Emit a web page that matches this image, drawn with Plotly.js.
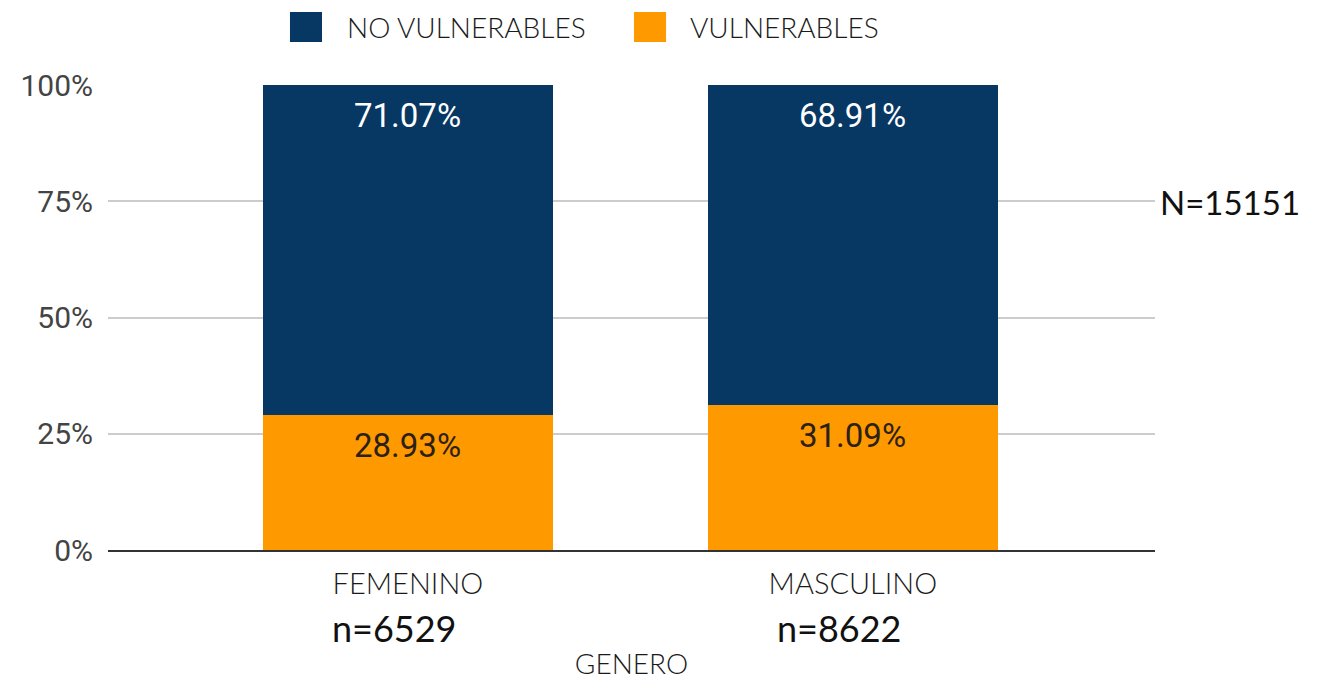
<!DOCTYPE html>
<html>
<head>
<meta charset="utf-8">
<script src="https://cdn.plot.ly/plotly-3.0.1.min.js"></script>
<style>html,body{margin:0;padding:0;background:#fff;}#chart{width:1328px;height:680px;}</style>
</head>
<body>
<div id="chart"></div>
<script>
var categories = ["FEMENINO", "MASCULINO"];
var groupSizes = ["n=6529", "n=8622"];
var vulnerables = [28.93, 31.09];
var noVulnerables = [71.07, 68.91];
var totalLabel = "N=15151";
var seriesNames = ["NO VULNERABLES", "VULNERABLES"];
var yTicks = [0, 25, 50, 75, 100];
var yTickText = ["0%", "25%", "50%", "75%", "100%"];

var navy = "#073763";
var orange = "#ff9900";

var traces = [
  {type: "bar", name: seriesNames[1], x: categories, y: vulnerables, marker: {color: orange}, width: 0.652, hoverinfo: "skip"},
  {type: "bar", name: seriesNames[0], x: categories, y: noVulnerables, marker: {color: navy}, width: 0.652, hoverinfo: "skip"}
];

var annotations = [];
categories.forEach(function (c, i) {
  annotations.push({x: c, y: vulnerables[i], xref: "x", yref: "y", text: vulnerables[i].toFixed(2) + "%",
    showarrow: false, yanchor: "middle", yshift: -30, font: {family: "Roboto", size: 33, color: "#2b2116"}});
  annotations.push({x: c, y: vulnerables[i] + noVulnerables[i], xref: "x", yref: "y", text: noVulnerables[i].toFixed(2) + "%",
    showarrow: false, yanchor: "middle", yshift: -30, font: {family: "Roboto", size: 33, color: "#ffffff"}});
  annotations.push({x: c, y: -0.1677, xref: "x", yref: "paper", text: groupSizes[i], showarrow: false,
    yanchor: "middle", xshift: -13, font: {family: "Lato", size: 36, color: "#111"}});
});
annotations.push({x: 1.0716, y: 0.748, xref: "paper", yref: "paper", text: totalLabel, showarrow: false,
  xanchor: "center", yanchor: "middle", font: {family: "Lato", size: 33, color: "#111"}});
// legend text
annotations.push({x: 0.2283, y: 1.1247, xref: "paper", yref: "paper", text: seriesNames[0], showarrow: false,
  xanchor: "left", yanchor: "middle", xshift: -2, font: {family: "Lato", size: 28, weight: 300, color: "#1a1a1a"}});
annotations.push({x: 0.5559, y: 1.1247, xref: "paper", yref: "paper", text: seriesNames[1], showarrow: false,
  xanchor: "left", yanchor: "middle", xshift: -2, font: {family: "Lato", size: 28, weight: 300, color: "#1a1a1a"}});

var shapes = [
  {type: "rect", xref: "paper", yref: "paper", x0: 0.1738, x1: 0.2044, y0: 1.0925, y1: 1.157, fillcolor: navy, line: {width: 0}},
  {type: "rect", xref: "paper", yref: "paper", x0: 0.5024, x1: 0.533, y0: 1.0925, y1: 1.157, fillcolor: orange, line: {width: 0}}
];

var layout = {
  width: 1328, height: 680,
  margin: {l: 108, r: 173, t: 85, b: 130},
  barmode: "stack",
  showlegend: false,
  paper_bgcolor: "#fff", plot_bgcolor: "#fff",
  font: {family: "Roboto", color: "#333"},
  xaxis: {
    range: [-0.674, 1.679],
    tickfont: {family: "Lato", size: 29, weight: 300, color: "#1a1a1a"},
    ticks: "", ticklabelstandoff: 7,
    showgrid: false, zeroline: false, showline: true, linecolor: "#333", linewidth: 2,
    title: {text: "GENERO", font: {family: "Lato", size: 28, weight: 300, color: "#1a1a1a"}, standoff: 72}
  },
  yaxis: {
    range: [0, 100],
    tickvals: yTicks, ticktext: yTickText,
    tickfont: {family: "Roboto", size: 30, color: "#444"},
    ticks: "", ticklabelstandoff: 14,
    showgrid: true, gridcolor: "#cccccc", gridwidth: 2,
    zeroline: false, showline: false
  },
  annotations: annotations,
  shapes: shapes
};

Plotly.newPlot("chart", traces, layout, {displayModeBar: false, staticPlot: true});
</script>
</body>
</html>
